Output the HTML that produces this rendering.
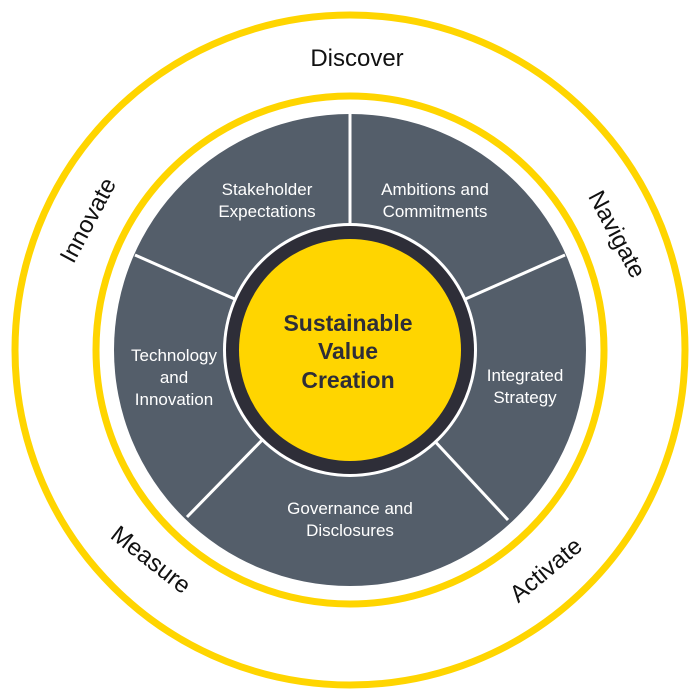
<!DOCTYPE html>
<html><head><style>body{margin:0;background:#fff}svg{display:block}</style></head><body>
<svg width="700" height="700" viewBox="0 0 700 700" font-family="Liberation Sans, sans-serif">
<circle cx="350" cy="350" r="335" fill="none" stroke="#ffd500" stroke-width="7"/>
<circle cx="350" cy="350" r="254" fill="none" stroke="#ffd500" stroke-width="7"/>
<circle cx="350" cy="350" r="236" fill="#545e6a"/>
<g stroke="#fff" stroke-width="3">
<line x1="350" y1="112" x2="350" y2="225"/>
<line x1="350" y1="350" x2="135" y2="255"/>
<line x1="350" y1="350" x2="565" y2="255"/>
<line x1="350" y1="350" x2="187" y2="517"/>
<line x1="350" y1="350" x2="508" y2="520"/>
</g>
<circle cx="350" cy="350" r="127" fill="#fff"/>
<circle cx="350" cy="350" r="124" fill="#2e2e38"/>
<circle cx="350" cy="350" r="111" fill="#ffd500"/>
<g fill="#fff" font-size="17" text-anchor="middle">
<text x="267" y="195">Stakeholder</text><text x="267" y="217">Expectations</text>
<text x="435" y="195">Ambitions and</text><text x="435" y="217">Commitments</text>
<text x="174" y="361">Technology</text><text x="174" y="383">and</text><text x="174" y="405">Innovation</text>
<text x="525" y="381">Integrated</text><text x="525" y="403">Strategy</text>
<text x="350" y="514">Governance and</text><text x="350" y="536">Disclosures</text>
</g>
<g fill="#2e2e38" font-size="23" font-weight="bold" text-anchor="middle">
<text x="348" y="331">Sustainable</text><text x="348" y="359">Value</text><text x="348" y="388">Creation</text>
</g>
<g fill="#111" font-size="24" text-anchor="middle">
<text x="357" y="66">Discover</text>
<text transform="translate(95,224) rotate(-62)">Innovate</text>
<text transform="translate(610,238) rotate(62)">Navigate</text>
<text transform="translate(146,566) rotate(38)">Measure</text>
<text transform="translate(551,576) rotate(-40)">Activate</text>
</g>
</svg>
</body></html>
